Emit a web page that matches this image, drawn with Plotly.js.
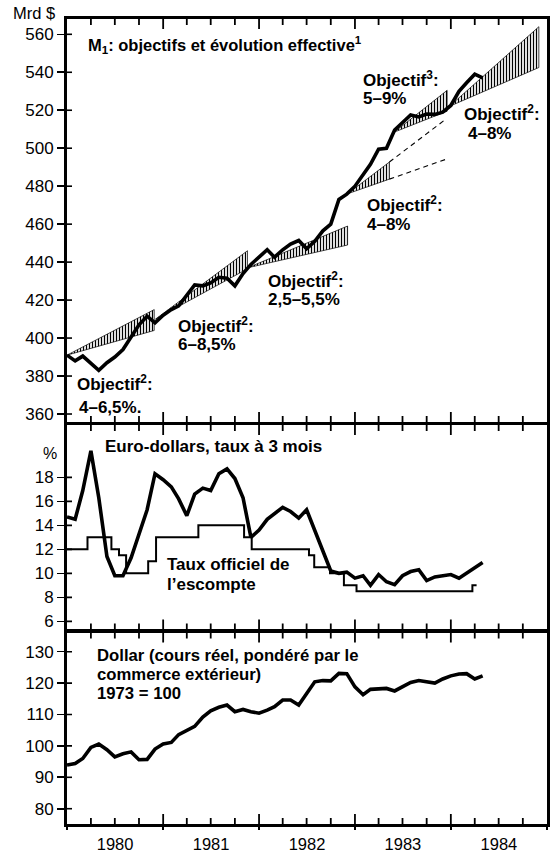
<!DOCTYPE html>
<html>
<head>
<meta charset="utf-8">
<script src="https://cdn.plot.ly/plotly-3.0.1.min.js"></script>
<style>html,body{margin:0;padding:0;background:#fff;}#chart{width:553px;height:852px;}</style>
</head>
<body>
<div id="chart"></div>
<script>
// ---------- DATA ----------
// monthly observations, Jan 1980 .. May 1984 (53 months)
const startYear = 1980;
const nMonths = 53;

const m1Values = [391, 388, 390.5, 387, 383, 387, 390, 394, 401, 407, 411.5, 408,
  412, 415, 417, 423, 428, 427.5, 429, 432, 431.5, 427.5, 434, 438.8,
  442.7, 446.5, 442.6, 446.5, 449.5, 451.4, 447, 451, 456.5, 460, 473, 475.8,
  480, 486, 491.5, 499.5, 500, 509.6, 513.5, 517.5, 516.5, 518, 517.8, 519,
  522.5, 530, 534.5, 539, 537];

const euroValues = [14.7, 14.5, 16.9, 20.2, 16.3, 11.4, 9.8, 9.8, 11.3, 13.2, 15.3, 18.3,
  17.8, 17.2, 16.2, 14.8, 16.6, 17.1, 16.9, 18.3, 18.7, 17.9, 16.3, 13.0,
  13.6, 14.5, 15.0, 15.5, 15.15, 14.6, 15.3, 13.6, 11.9, 10.2, 10.0, 10.1,
  9.6, 9.8, 9.0, 9.9, 9.3, 9.06, 9.8, 10.15, 10.3, 9.4, 9.7, 9.8,
  9.9, 9.6, 10.0, 10.4, 10.9];

const dollarValues = [93.9, 94.4, 96.0, 99.5, 100.6, 98.8, 96.5, 97.5, 98.1, 95.6, 95.7, 99.0,
  100.6, 101.1, 103.6, 105.0, 106.2, 109.2, 111.2, 112.3, 113.0, 110.9, 111.6, 110.9,
  110.4, 111.4, 112.5, 114.6, 114.6, 113.0, 116.5, 120.4, 120.8, 120.7, 123.1, 123.0,
  118.8, 116.3, 118.0, 118.2, 118.3, 117.5, 118.7, 120.2, 120.8, 120.3, 120.0, 121.3,
  122.3, 122.9, 123.0, 121.3, 122.3];

// discount rate (step changes)
const discountDates = ['1980-01-01','1980-03-19','1980-06-18','1980-07-17','1980-08-13','1980-11-05',
  '1980-12-05','1981-05-15','1981-11-05','1981-12-04','1982-07-10','1982-07-30','1982-09-28',
  '1982-11-20','1983-01-07','1984-03-23','1984-04-08'];
const discountValues = [12, 13, 12, 11.5, 10, 11, 13, 14, 13, 12, 11.5, 10.5, 10, 9, 8.5, 9, 9];

// M1 target cones
const coneStart = ['1980-01-01','1980-12-03','1981-11-18','1982-12-04','1983-05-31','1983-12-26'];
const coneEnd   = ['1980-11-28','1981-11-18','1982-12-04','1983-12-10','1983-12-18','1984-12-01'];
const coneBase  = [391, 410, 437, 476, 508.5, 522];
const coneLow   = [404, 436.5, 449, 494, 519.5, 542.5];
const coneHigh  = [415, 446, 459, 515, 530.5, 564];
const coneHatchEnd = [null, null, null, '1983-05-12', null, null];

// tick values
const m1Ticks = [360, 380, 400, 420, 440, 460, 480, 500, 520, 540, 560];
const rateTicks = [6, 8, 10, 12, 14, 16, 18];
const dollarTicks = [80, 90, 100, 110, 120, 130];

// ---------- BUILD ----------
function pad(n){ return (n < 10 ? '0' : '') + n; }
const months = [];
for (let i = 0; i < nMonths; i++) {
  months.push((startYear + Math.floor(i / 12)) + '-' + pad(i % 12 + 1) + '-01');
}
const BLACK = '#000';
const traces = [];
function tms(d){ return new Date(d + 'T00:00:00Z').getTime(); }

// cones
for (let i = 0; i < coneStart.length; i++) {
  let hEnd = coneEnd[i], hLow = coneLow[i], hHigh = coneHigh[i];
  if (coneHatchEnd[i]) {
    const f = (tms(coneHatchEnd[i]) - tms(coneStart[i])) / (tms(coneEnd[i]) - tms(coneStart[i]));
    hEnd = coneHatchEnd[i];
    hLow = coneBase[i] + f * (coneLow[i] - coneBase[i]);
    hHigh = coneBase[i] + f * (coneHigh[i] - coneBase[i]);
    traces.push({type:'scatter', mode:'lines', xaxis:'x3', yaxis:'y3',
      x:[hEnd, coneEnd[i]], y:[hHigh, coneHigh[i]], hoverinfo:'skip',
      line:{color:BLACK, width:1.1, dash:'5px,4px'}});
    traces.push({type:'scatter', mode:'lines', xaxis:'x3', yaxis:'y3',
      x:[hEnd, coneEnd[i]], y:[hLow, coneLow[i]], hoverinfo:'skip',
      line:{color:BLACK, width:1.1, dash:'5px,4px'}});
  }
  traces.push({type:'scatter', mode:'lines', xaxis:'x3', yaxis:'y3',
    x:[coneStart[i], hEnd, hEnd, coneStart[i]],
    y:[coneBase[i], hHigh, hLow, coneBase[i]],
    fill:'toself', fillcolor:'rgba(0,0,0,0)',
    fillpattern:{shape:'|', size:3, solidity:0.42, fgcolor:BLACK, fgopacity:1},
    line:{color:BLACK, width:0.7}, hoverinfo:'skip'});
}

traces.push({type:'scatter', mode:'lines', xaxis:'x3', yaxis:'y3', x:months, y:m1Values,
  line:{color:BLACK, width:3.6}});
traces.push({type:'scatter', mode:'lines', xaxis:'x2', yaxis:'y2', x:discountDates, y:discountValues,
  line:{color:BLACK, width:2, shape:'hv'}});
traces.push({type:'scatter', mode:'lines', xaxis:'x2', yaxis:'y2', x:months, y:euroValues,
  line:{color:BLACK, width:3.6}});
traces.push({type:'scatter', mode:'lines', xaxis:'x', yaxis:'y', x:months, y:dollarValues,
  line:{color:BLACK, width:3.6}});
// carrier for the label axis
traces.push({type:'scatter', mode:'lines', x:[], y:[], xaxis:'x4', yaxis:'y', hoverinfo:'skip'});

const XR = ['1980-01-01', '1985-01-01'];
const DOM_BOT = [0, 0.23789], DOM_MID = [0.24161, 0.49565], DOM_TOP = [0.49938, 1];
const R_BOT = [75.13, 136.11], R_MID = [5.32, 22.36], R_TOP = [355.79, 568.06];
const PLOT_W = 480, PLOT_H = 805;

// inner tick marks of the frames, drawn as thin line traces on each panel's scales
const t0 = tms(XR[0]), t1 = tms(XR[1]);
const msPerPx = (t1 - t0) / PLOT_W;
[['x', 'y', DOM_BOT, R_BOT, dollarTicks], ['x2', 'y2', DOM_MID, R_MID, rateTicks], ['x3', 'y3', DOM_TOP, R_TOP, m1Ticks]].forEach(function(p){
  const dom = p[2], r = p[3];
  const unitsPerPx = (r[1] - r[0]) / ((dom[1] - dom[0]) * PLOT_H);
  const tx = [], ty = [];
  for (let q = 1; q < 20; q++) {
    const d = (1980 + Math.floor(q / 4)) + '-' + pad((q % 4) * 3 + 1) + '-01';
    const len = (q % 4 === 0 ? 10 : 6) * unitsPerPx;
    tx.push(d, d, null, d, d, null);
    ty.push(r[0], r[0] + len, null, r[1], r[1] - len, null);
  }
  traces.push({type:'scatter', mode:'lines', xaxis:p[0], yaxis:p[1], x:tx, y:ty,
    line:{color:BLACK, width:1.8}, hoverinfo:'skip', connectgaps:false});
  const yx = [], yy = [];
  p[4].forEach(function(v){
    yx.push(new Date(t0).toISOString(), new Date(t0 + 5 * msPerPx).toISOString(), null);
    yy.push(v, v, null);
  });
  traces.push({type:'scatter', mode:'lines', xaxis:p[0], yaxis:p[1], x:yx, y:yy,
    line:{color:BLACK, width:1.6}, hoverinfo:'skip', connectgaps:false});
});

function xAxis(anchor){
  return {type:'date', range:XR, anchor:anchor, domain:[0,1],
    ticks:'', showline:true, linewidth:3, linecolor:BLACK, mirror:true,
    showticklabels:false, showgrid:false, zeroline:false, fixedrange:true};
}
function yAxis(anchor, domain, range, vals){
  return {anchor:anchor, domain:domain, range:range, tickmode:'array', tickvals:vals,
    ticks:'outside', ticklen:7, tickwidth:1.6, tickcolor:BLACK,
    showline:true, linewidth:3, linecolor:BLACK, mirror:true,
    showgrid:false, zeroline:false, fixedrange:true,
    tickfont:{size:17, color:BLACK}};
}

// text placement helpers (pixel -> paper)
function PX(px){ return (px - 67) / PLOT_W; }
function PY(py){ return (824 - py) / PLOT_H; }
function lab(text, px, py, bold, size){
  return {xref:'paper', yref:'paper', x:PX(px), y:PY(py), xanchor:'left', yanchor:'middle',
    showarrow:false, text: bold ? '<b>' + text + '</b>' : text,
    font:{size:size, color:BLACK}};
}
const annotations = [
  lab('Mrd $', 11, 13, false, 16.5),
  lab('M<sub>1</sub>: objectifs et évolution effective<sup>1</sup>', 86, 45, true, 16.5),
  lab('Objectif<sup>2</sup>:', 75, 383, true, 17),
  lab('4\u20136,5%.', 77, 407, true, 17),
  lab('Objectif<sup>2</sup>:', 176, 325, true, 17),
  lab('6\u20138,5%', 176, 344, true, 17),
  lab('Objectif<sup>2</sup>:', 266, 280, true, 17),
  lab('2,5\u20135,5%', 266, 299, true, 17),
  lab('Objectif<sup>2</sup>:', 365, 204, true, 17),
  lab('4\u20138%', 365, 224, true, 17),
  lab('Objectif<sup>3</sup>:', 361, 79, true, 17),
  lab('5\u20139%', 361, 99, true, 17),
  lab('Objectif<sup>2</sup>:', 462, 113, true, 17),
  lab('4\u20138%', 466, 133, true, 17),
  lab('%', 41, 453, false, 16),
  lab('Euro-dollars, taux à 3 mois', 103, 446, true, 17),
  lab('Taux officiel de', 165, 564, true, 17),
  lab('l\u2019escompte', 165, 584, true, 17),
  lab('Dollar (cours réel, pondéré par le', 95, 655, true, 16.7),
  lab('commerce extérieur)', 95, 674, true, 16.7),
  lab('1973 = 100', 95, 693, true, 16.7)
];

const layout = {
  width:553, height:852,
  margin:{l:67, r:6, t:19, b:28, pad:0},
  paper_bgcolor:'#fff', plot_bgcolor:'#fff',
  showlegend:false,
  font:{family:'"Liberation Sans", Arial, Helvetica, sans-serif', color:BLACK, size:16},
  xaxis: xAxis('y'),
  xaxis2: xAxis('y2'),
  xaxis3: xAxis('y3'),
  xaxis4: {type:'date', range:XR, overlaying:'x', anchor:'y', side:'bottom',
    ticks:'outside', ticklen:5, tickwidth:1.6, tickcolor:BLACK,
    tick0:'1980-01-01', dtick:'M12', ticklabelmode:'period', tickformat:'%Y',
    showline:false, showgrid:false, zeroline:false, fixedrange:true,
    tickfont:{size:16.5, color:BLACK}},
  yaxis: yAxis('x', DOM_BOT, R_BOT, dollarTicks),
  yaxis2: yAxis('x2', DOM_MID, R_MID, rateTicks),
  yaxis3: yAxis('x3', DOM_TOP, R_TOP, m1Ticks),
  annotations: annotations
};

Plotly.newPlot('chart', traces, layout, {staticPlot:true, displayModeBar:false});
</script>
</body>
</html>
